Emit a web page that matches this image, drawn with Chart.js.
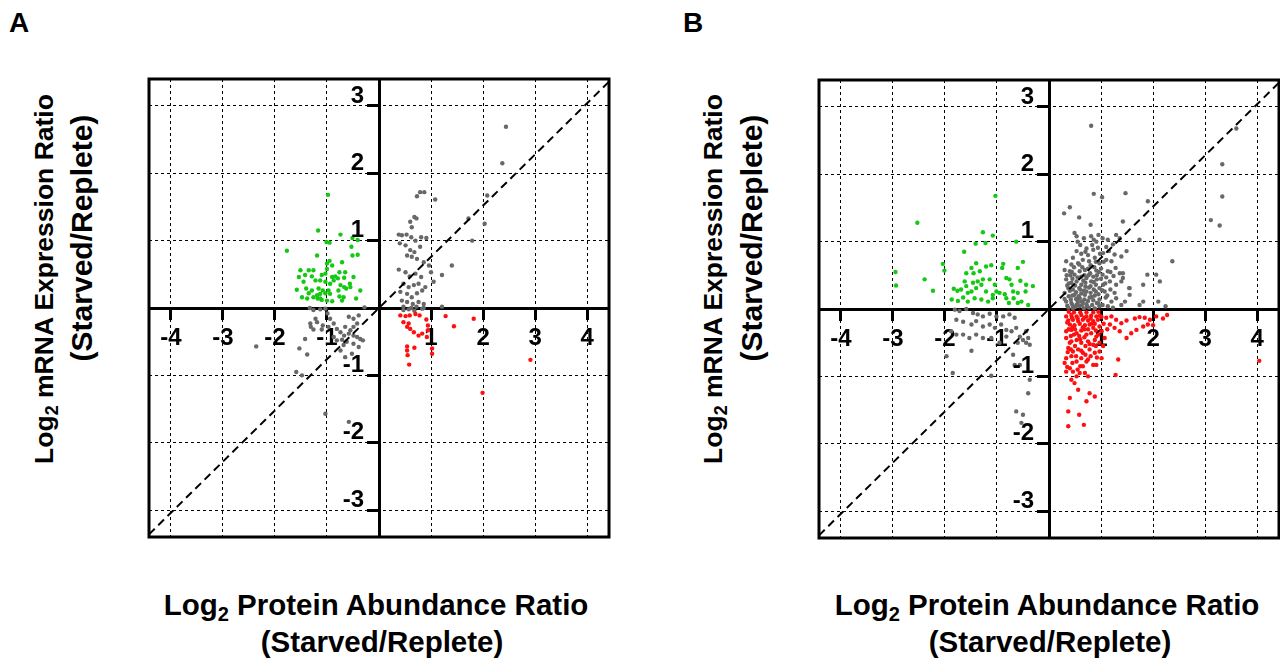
<!DOCTYPE html>
<html>
<head>
<meta charset="utf-8">
<script src="https://cdn.jsdelivr.net/npm/chart.js@4.4.1/dist/chart.umd.min.js"></script>
<style>
  html, body { margin: 0; padding: 0; background: #fff; overflow: hidden; }
  #page { position: relative; width: 1280px; height: 658px; overflow: hidden; font-family: "Liberation Sans", Arial, sans-serif; font-weight: bold; color: #000; }
  canvas { position: absolute; }
  .lbl { position: absolute; white-space: nowrap; line-height: 1.15; transform: translate(-50%, -50%); }
  .rot { transform: translate(-50%, -50%) rotate(-90deg); }
  sub { font-size: 68%; vertical-align: -0.28em; line-height: 0; }
</style>
</head>
<body>
<div id="page">
  <div class="lbl" style="left:19px; top:23px; font-size:28px;">A</div>
  <div class="lbl" style="left:693px; top:23px; font-size:28px;">B</div>

  <canvas id="chartA" width="500" height="498" style="left:129px; top:59px;"></canvas>
  <canvas id="chartB" width="500" height="498" style="left:799px; top:60px;"></canvas>

  <div class="lbl rot" style="left:44px; top:279px; font-size:26.5px;">Log<sub>2</sub> mRNA Expression Ratio</div>
  <div class="lbl rot" style="left:82px; top:238px; font-size:30px;">(Starved/Replete)</div>
  <div class="lbl rot" style="left:713px; top:279px; font-size:26.5px;">Log<sub>2</sub> mRNA Expression Ratio</div>
  <div class="lbl rot" style="left:752px; top:238px; font-size:30px;">(Starved/Replete)</div>

  <div class="lbl" style="left:376px; top:605px; font-size:29.5px;">Log<sub>2</sub> Protein Abundance Ratio</div>
  <div class="lbl" style="left:382px; top:642px; font-size:29.5px;">(Starved/Replete)</div>
  <div class="lbl" style="left:1047px; top:605px; font-size:29.5px;">Log<sub>2</sub> Protein Abundance Ratio</div>
  <div class="lbl" style="left:1050px; top:642px; font-size:29.5px;">(Starved/Replete)</div>
</div>

<script>
// axes
const xRange = [-4.42, 4.42];
const yRange = [-3.4, 3.4];
const xTicks = [-4, -3, -2, -1, 0, 1, 2, 3, 4];
const yTicks = [-3, -2, -1, 0, 1, 2, 3];
const diagonal = [[-4.42, -3.36], [4.42, 3.36]];

// panel A  [protein, mRNA]
const greenA = [
  [-0.98, 1.68], [-1.17, 1.15], [-0.74, 1.09], [-1.01, 0.98], [-0.95, 0.97], [-0.51, 1.04], [-0.41, 1.01],
  [-1.77, 0.85], [-0.53, 0.91], [-0.41, 0.79], [-0.51, 0.78], [-1.19, 0.78], [-0.95, 0.70], [-1.00, 0.66],
  [-0.90, 0.63], [-0.71, 0.68], [-1.51, 0.56], [-1.35, 0.56], [-1.26, 0.56], [-1.00, 0.58], [-0.76, 0.53],
  [-0.65, 0.53], [-1.54, 0.46], [-1.42, 0.49], [-1.29, 0.47], [-1.10, 0.49], [-1.03, 0.51], [-0.90, 0.46],
  [-0.84, 0.47], [-0.79, 0.44], [-0.67, 0.45], [-0.56, 0.36], [-0.49, 0.46], [-1.45, 0.39], [-1.22, 0.41],
  [-1.13, 0.41], [-1.03, 0.39], [-0.94, 0.36], [-0.87, 0.41], [-0.74, 0.34], [-0.67, 0.31], [-0.55, 0.31],
  [-1.58, 0.27], [-1.40, 0.29], [-1.29, 0.26], [-1.16, 0.29], [-1.08, 0.26], [-0.97, 0.26], [-0.78, 0.26],
  [-0.63, 0.29], [-0.36, 0.26], [-1.48, 0.16], [-1.35, 0.22], [-1.19, 0.19], [-1.13, 0.14], [-1.03, 0.22],
  [-0.94, 0.21], [-0.76, 0.17], [-0.68, 0.16], [-0.44, 0.14], [-1.18, 0.14], [-1.10, 0.12], [-1.00, 0.11],
  [-1.38, 0.14], [-1.26, 0.16], [-0.90, 0.10], [-0.71, 0.11], [-1.13, 0.21]
];
const grayA = [
  [0.73, 1.66], [0.79, 1.72], [0.87, 1.72], [1.08, 1.61], [0.68, 1.35], [0.60, 1.28], [0.72, 1.33], [0.63, 1.20],
  [0.38, 1.09], [0.44, 1.08], [0.53, 1.09], [0.62, 1.05], [0.70, 1.00], [0.81, 1.05], [0.91, 1.04], [0.40, 0.96],
  [0.51, 0.93], [0.60, 0.86], [0.68, 0.83], [0.79, 0.91], [0.54, 0.78], [0.63, 0.76], [0.73, 0.73], [0.86, 0.68],
  [0.96, 0.63], [0.38, 0.57], [0.51, 0.53], [0.59, 0.47], [0.70, 0.51], [0.81, 0.46], [1.00, 0.53], [1.05, 0.39],
  [0.47, 0.36], [0.57, 0.31], [0.67, 0.34], [0.76, 0.36], [0.89, 0.31], [0.41, 0.24], [0.54, 0.21], [0.63, 0.16],
  [0.73, 0.22], [0.83, 0.26], [0.44, 0.11], [0.54, 0.09], [0.65, 0.06], [0.76, 0.09], [0.86, 0.06], [0.47, 0.02],
  [0.62, 0.00], [0.72, 0.02], [0.86, 0.00], [1.40, 0.63], [1.21, 0.49], [1.21, 0.02], [2.08, 1.67], [2.03, 1.25],
  [1.79, 1.00], [1.72, 1.33], [2.37, 2.15], [2.44, 2.69], [0.47, -0.03], [0.57, -0.02], [0.68, -0.04], [0.83, -0.01],
  [-1.33, 0.00], [-1.26, -0.03], [-1.13, -0.02], [-1.03, -0.01], [-0.99, -0.08], [-0.94, -0.16], [-1.22, -0.16],
  [-1.32, -0.23], [-1.19, -0.21], [-1.08, -0.26], [-1.31, -0.28], [-1.26, -0.32], [-1.10, -0.32], [-0.97, -0.28],
  [-0.87, -0.23], [-0.81, -0.31], [-0.74, -0.36], [-0.67, -0.41], [-0.58, -0.38], [-0.49, -0.41], [-0.42, -0.43],
  [-0.36, -0.46], [-0.31, -0.48], [-0.71, -0.47], [-0.62, -0.50], [-0.49, -0.53], [-0.39, -0.58], [-0.58, -0.13],
  [-0.49, -0.16], [-0.39, -0.11], [-0.42, -0.23], [-0.49, -0.28], [-0.55, -0.33], [-0.65, -0.28], [-1.42, -0.46],
  [-1.53, -0.60], [-1.38, -0.69], [-1.59, -0.95], [-1.48, -1.00], [-2.36, -0.57], [-1.03, -1.57], [-0.58, -1.69],
  [-0.28, 0.01], [-0.74, -0.63], [-0.65, -0.73], [-0.52, -0.68], [-0.68, -0.55], [-0.87, -0.43], [-0.81, -0.48]
];
const redA = [
  [0.41, -0.11], [0.51, -0.12], [0.59, -0.11], [0.70, -0.09], [0.78, -0.11], [0.91, -0.17], [0.94, -0.26],
  [0.54, -0.28], [0.60, -0.31], [0.67, -0.36], [0.76, -0.41], [0.83, -0.38], [0.92, -0.43], [1.02, -0.60],
  [1.02, -0.68], [0.54, -0.57], [0.68, -0.59], [0.54, -0.63], [0.55, -0.70], [0.58, -0.84], [1.28, -0.12],
  [1.44, -0.27], [1.82, -0.16], [2.91, -0.77], [1.99, -1.26], [0.47, -0.21], [0.57, -0.23], [0.94, -0.33]
];

// panel B  [protein, mRNA]
const greenB = [
  [-1.03, 1.68], [-2.53, 1.28], [-1.27, 1.14], [-1.08, 1.09], [-1.41, 0.97], [-1.22, 0.98], [-0.63, 1.00],
  [-1.63, 0.85], [-2.04, 0.67], [-2.01, 0.57], [-2.95, 0.55], [-2.94, 0.35], [-2.39, 0.44], [-2.23, 0.27],
  [-1.83, 0.30], [-1.76, 0.27], [-1.87, 0.14], [-1.62, 0.41], [-1.59, 0.53], [-1.49, 0.61], [-1.40, 0.68],
  [-1.45, 0.53], [-1.33, 0.56], [-1.21, 0.63], [-1.11, 0.65], [-0.88, 0.67], [-0.90, 0.61], [-0.82, 0.46],
  [-0.76, 0.44], [-0.60, 0.61], [-0.50, 0.70], [-0.55, 0.42], [-0.44, 0.36], [-0.31, 0.34], [-0.45, 0.26],
  [-0.60, 0.24], [-0.68, 0.16], [-0.82, 0.16], [-0.95, 0.24], [-1.08, 0.21], [-1.21, 0.26], [-1.30, 0.36],
  [-1.40, 0.31], [-1.49, 0.26], [-1.59, 0.34], [-1.69, 0.29], [-1.75, 0.12], [-1.65, 0.17], [-1.56, 0.11],
  [-1.43, 0.16], [-1.30, 0.14], [-1.17, 0.11], [-1.08, 0.16], [-1.01, 0.26], [-1.04, 0.36], [-1.14, 0.44],
  [-1.27, 0.44], [-1.37, 0.41], [-1.46, 0.39], [-1.56, 0.24], [-0.69, 0.26], [-0.60, 0.09], [-0.77, 0.09],
  [-0.85, 0.22], [-0.72, 0.36], [-0.53, 0.11], [-0.40, 0.06]
];
const grayB = [
  [-1.81, -0.01], [-1.72, -0.03], [-1.59, 0.00], [-1.46, -0.06], [-1.37, -0.08], [-1.27, -0.11], [-1.14, -0.07],
  [-1.01, -0.11], [-0.88, -0.11], [-0.76, -0.08], [-0.66, -0.13], [-1.78, -0.16], [-1.65, -0.19], [-1.49, -0.23],
  [-1.40, -0.18], [-1.27, -0.26], [-1.14, -0.23], [-1.04, -0.28], [-0.92, -0.23], [-0.82, -0.31], [-0.72, -0.33],
  [-0.63, -0.28], [-0.56, -0.41], [-0.50, -0.46], [-0.44, -0.50], [-0.37, -0.53], [-0.40, -0.43], [-0.60, -0.50],
  [-0.69, -0.68], [-1.88, -0.33], [-1.78, -0.38], [-1.65, -0.38], [-1.53, -0.43], [-1.40, -0.38], [-1.27, -0.43],
  [-1.11, -0.43], [-1.97, -0.70], [-1.85, -0.95], [-1.49, -0.62], [-1.11, -0.99], [-0.66, -0.83], [-0.56, -0.83],
  [-0.37, -1.05], [-0.40, -1.25], [-0.63, -1.52], [-0.50, -1.57], [-0.53, -1.69], [-0.82, -0.41], [-0.95, -0.50],
  [-0.44, -0.33],
  [0.81, 2.72], [3.60, 2.68], [3.33, 2.15], [3.33, 1.67], [3.11, 1.32], [3.28, 1.24], [2.37, 0.71], [1.90, 1.60],
  [1.47, 1.72], [0.86, 1.71], [1.02, 1.66], [0.40, 1.51], [0.29, 1.42], [0.58, 1.36], [0.80, 1.25], [1.42, 1.30],
  [1.74, 1.03], [1.89, 0.51], [2.06, 0.51], [2.13, 0.41], [1.81, 0.36], [2.10, 0.11], [2.24, 0.04], [1.55, 0.31],
  [1.42, 0.53], [1.28, 0.61],
  [0.49, 1.13], [0.53, 1.08], [0.67, 1.05], [0.81, 1.08], [0.86, 1.03], [0.91, 1.00], [1.03, 1.05], [1.13, 1.03],
  [1.23, 0.96], [1.29, 1.10], [1.36, 1.05], [0.53, 0.86], [0.62, 0.82], [0.72, 0.90], [0.83, 0.95], [0.94, 0.91],
  [1.04, 0.83], [1.15, 0.86], [1.26, 0.81], [0.46, 0.76], [0.33, 0.71], [0.43, 0.66], [0.56, 0.68], [0.65, 0.73],
  [0.77, 0.71], [0.88, 0.76], [0.97, 0.68], [1.10, 0.73], [1.20, 0.71], [1.39, 0.78], [1.49, 0.86], [0.30, 0.58],
  [0.40, 0.56], [0.49, 0.51], [0.59, 0.56], [0.69, 0.58], [0.79, 0.53], [0.91, 0.57], [1.03, 0.51], [1.13, 0.56],
  [1.24, 0.49], [1.36, 0.53], [1.42, 0.46], [0.33, 0.44], [0.43, 0.39], [0.53, 0.41], [0.62, 0.36], [0.72, 0.46],
  [0.81, 0.41], [0.92, 0.44], [1.04, 0.36], [1.17, 0.41], [1.29, 0.36], [1.39, 0.41], [1.54, 0.31], [0.37, 0.31],
  [0.46, 0.29], [0.58, 0.31], [0.67, 0.27], [0.77, 0.32], [0.86, 0.29], [0.97, 0.31], [1.07, 0.26], [1.18, 0.29],
  [1.26, 0.24], [0.30, 0.24], [0.38, 0.19], [0.49, 0.21], [0.59, 0.16], [0.69, 0.21], [0.78, 0.17], [0.88, 0.20],
  [0.97, 0.14], [1.09, 0.17], [1.20, 0.11], [1.29, 0.16], [1.39, 0.06], [0.33, 0.11], [0.43, 0.09], [0.53, 0.06],
  [0.62, 0.11], [0.72, 0.07], [0.83, 0.06], [0.92, 0.09], [1.03, 0.06], [1.13, 0.04], [1.23, 0.02], [0.37, 0.02],
  [0.46, 0.01], [0.58, 0.04], [0.67, 0.01], [0.77, 0.02], [0.88, 0.01], [0.97, 0.04], [1.46, 0.11], [1.55, 0.21],
  [1.74, 0.06], [1.81, 0.11],
  [0.55, 0.47], [0.64, 0.62], [0.75, 0.60], [0.85, 0.48], [0.45, 0.45], [0.70, 0.33], [0.52, 0.25], [0.62, 0.23],
  [0.80, 0.24], [0.90, 0.36], [0.42, 0.14], [0.55, 0.12], [0.68, 0.14], [0.73, 0.04], [0.63, 0.05], [0.50, 0.03],
  [0.95, 0.22], [1.00, 0.45], [0.75, 0.80], [0.60, 0.95], [0.98, 0.82], [0.87, 0.62], [1.10, 0.47], [0.41, 0.50],
  [0.35, 0.35],
  [0.35, 0.05], [0.45, 0.06], [0.55, 0.08], [0.65, 0.09], [0.75, 0.12], [0.85, 0.13], [0.95, 0.08], [0.40, 0.27],
  [0.50, 0.35], [0.60, 0.29], [0.70, 0.39], [0.80, 0.34], [0.90, 0.26], [0.45, 0.20], [0.57, 0.19], [0.66, 0.42],
  [0.76, 0.50], [0.86, 0.40], [0.96, 0.55], [0.38, 0.38], [0.48, 0.62], [0.58, 0.66], [0.68, 0.50], [0.80, 0.65],
  [0.90, 0.70], [1.00, 0.60], [1.08, 0.38], [1.12, 0.20], [0.52, 0.15], [0.72, 0.26], [0.82, 0.18], [0.62, 0.48],
  [0.44, 0.55], [0.92, 0.50], [1.02, 0.28], [0.30, 0.15], [0.34, 0.50], [1.18, 0.55], [0.70, 0.85], [0.85, 0.88],
  [0.55, 1.00], [0.95, 1.10], [1.10, 0.92], [1.05, 0.70]
];
const redB = [
  [0.33, -0.11], [0.43, -0.09], [0.53, -0.11], [0.62, -0.09], [0.72, -0.11], [0.81, -0.10], [0.91, -0.11],
  [1.01, -0.12], [0.37, -0.17], [0.46, -0.16], [0.56, -0.18], [0.65, -0.16], [0.75, -0.17], [0.85, -0.18],
  [0.94, -0.16], [0.40, -0.23], [0.49, -0.24], [0.59, -0.22], [0.69, -0.24], [0.78, -0.23], [0.88, -0.22],
  [0.97, -0.26], [1.10, -0.13], [1.20, -0.11], [1.29, -0.16], [1.39, -0.21], [1.49, -0.17], [1.65, -0.14],
  [1.74, -0.12], [1.84, -0.13], [1.94, -0.16], [2.06, -0.11], [2.19, -0.14], [2.27, -0.09], [1.68, -0.31],
  [1.58, -0.36], [1.49, -0.43], [1.81, -0.26], [1.90, -0.23], [2.00, -0.24], [1.36, -0.33], [1.26, -0.28],
  [1.17, -0.23], [0.33, -0.33], [0.43, -0.31], [0.53, -0.36], [0.62, -0.32], [0.72, -0.38], [0.81, -0.36],
  [0.91, -0.41], [1.01, -0.33], [0.33, -0.43], [0.43, -0.48], [0.53, -0.46], [0.62, -0.50], [0.75, -0.48],
  [0.85, -0.53], [0.97, -0.50], [1.07, -0.43], [0.37, -0.58], [0.46, -0.63], [0.56, -0.60], [0.65, -0.65],
  [0.78, -0.60], [0.88, -0.65], [0.97, -0.63], [1.04, -0.55], [0.33, -0.73], [0.43, -0.70], [0.53, -0.78],
  [0.62, -0.73], [0.75, -0.75], [0.85, -0.83], [1.01, -0.73], [1.33, -0.75], [0.30, -0.80], [0.40, -0.88],
  [0.33, -0.93], [0.46, -0.93], [0.53, -1.00], [0.59, -0.95], [0.69, -0.95], [0.75, -1.00], [0.43, -1.05],
  [0.49, -1.10], [0.91, -0.83], [0.56, -1.20], [0.40, -1.32], [0.78, -1.25], [0.88, -1.30], [0.72, -1.37],
  [0.58, -1.57], [0.37, -1.52], [0.37, -1.74], [0.67, -1.72], [1.28, -0.98], [4.04, -0.77],
  [0.48, -0.05], [0.60, -0.05], [0.72, -0.05], [0.85, -0.05], [0.38, -0.04], [0.95, -0.04], [0.50, -0.30],
  [0.68, -0.30], [0.85, -0.28], [0.58, -0.40], [0.42, -0.40], [0.90, -0.55], [0.70, -0.55], [0.50, -0.55],
  [0.60, -0.85], [0.70, -0.68], [0.36, -0.64],
  [0.35, -0.20], [0.45, -0.27], [0.55, -0.14], [0.65, -0.27], [0.75, -0.30], [0.82, -0.22], [0.90, -0.32],
  [0.40, -0.50], [0.48, -0.38], [0.60, -0.45], [0.68, -0.42], [0.78, -0.52], [0.88, -0.46], [0.95, -0.38],
  [0.38, -0.30], [0.52, -0.70], [0.62, -0.62], [0.72, -0.78], [0.80, -0.70], [0.45, -0.80], [0.55, -0.90],
  [0.65, -0.85], [0.35, -0.86], [0.42, -0.60], [0.92, -0.72], [1.05, -0.22], [1.12, -0.30], [0.98, -0.10],
  [0.44, -0.13], [0.68, -0.13], [0.80, -0.14]
];

const AXIS_FONT = { family: '"Liberation Sans", Arial, sans-serif', size: 24, weight: 'bold' };

const toPoints = arr => arr.map(([x, y]) => ({ x, y }));

// outer box round the plot area
const framePlugin = {
  id: 'frame',
  afterDraw(chart) {
    const { ctx, chartArea: a } = chart;
    ctx.save();
    ctx.strokeStyle = '#000';
    ctx.lineWidth = 3;
    ctx.strokeRect(a.left, a.top, a.right - a.left, a.bottom - a.top);
    ctx.restore();
  }
};

// y labels sit left of the vertical axis, a little above each tick
const yLabelPlugin = {
  id: 'yLabels',
  afterDraw(chart) {
    const { ctx, scales: { x, y } } = chart;
    const right = x.getPixelForValue(0) - 15;
    ctx.save();
    ctx.font = `bold ${AXIS_FONT.size}px ${AXIS_FONT.family}`;
    ctx.fillStyle = '#000';
    ctx.textAlign = 'right';
    ctx.textBaseline = 'middle';
    yTicks.forEach(v => {
      if (v !== 0) ctx.fillText(String(v), right, y.getPixelForValue(v) - 10);
    });
    ctx.restore();
  }
};

function dots(label, data, color) {
  return {
    label: label,
    data: toPoints(data),
    backgroundColor: color,
    borderWidth: 0,
    pointRadius: 2.2,
    pointHoverRadius: 2.2
  };
}

function makeScatter(canvasId, gray, green, red) {
  const ctx = document.getElementById(canvasId).getContext('2d');
  return new Chart(ctx, {
    type: 'scatter',
    data: {
      datasets: [
        {
          label: 'y = x',
          type: 'line',
          data: toPoints(diagonal),
          borderColor: '#000',
          borderWidth: 2,
          borderDash: [8, 5],
          pointRadius: 0,
          fill: false
        },
        dots('down', red, '#ff1010'),
        dots('up', green, '#14c814'),
        dots('other', gray, '#686868')
      ]
    },
    options: {
      responsive: false,
      animation: false,
      events: [],
      layout: { padding: 20 },
      plugins: {
        legend: { display: false },
        tooltip: { enabled: false }
      },
      scales: {
        x: {
          type: 'linear',
          min: xRange[0],
          max: xRange[1],
          position: { y: 0 },
          afterBuildTicks: s => { s.ticks = xTicks.map(v => ({ value: v })); },
          grid: { color: '#000', lineWidth: 1, tickLength: 10, tickWidth: 3, tickColor: '#000' },
          border: { color: '#000', width: 3, dash: [3, 3] },
          ticks: {
            color: '#000',
            font: AXIS_FONT,
            padding: 6,
            autoSkip: false,
            maxRotation: 0,
            callback: v => (v === 0 ? '' : String(v))
          }
        },
        y: {
          type: 'linear',
          min: yRange[0],
          max: yRange[1],
          position: { x: 0 },
          afterBuildTicks: s => { s.ticks = yTicks.map(v => ({ value: v })); },
          grid: { color: '#000', lineWidth: 1, tickLength: 11, tickWidth: 3, tickColor: '#000' },
          border: { color: '#000', width: 3, dash: [3, 3] },
          ticks: { display: false }
        }
      }
    },
    plugins: [framePlugin, yLabelPlugin]
  });
}

makeScatter('chartA', grayA, greenA, redA);
makeScatter('chartB', grayB, greenB, redB);
</script>
</body>
</html>
